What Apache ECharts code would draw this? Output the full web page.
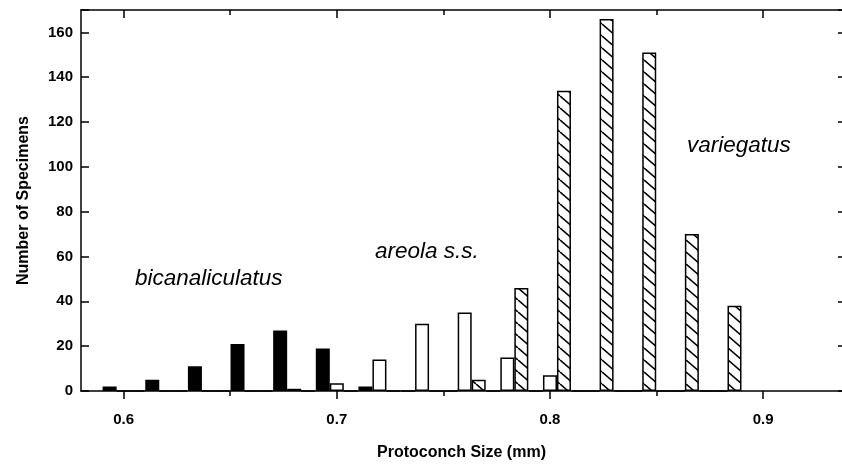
<!DOCTYPE html>
<html>
<head>
<meta charset="utf-8">
<script src="https://cdn.jsdelivr.net/npm/echarts@6/dist/echarts.min.js"></script>
<style>
html,body{margin:0;padding:0;background:#fff;}
#chart{width:842px;height:466px;}
</style>
</head>
<body>
<div id="chart"></div>
<script>
// Bin centres (mm)
var bins = [0.60, 0.62, 0.64, 0.66, 0.68, 0.70, 0.72, 0.74, 0.76, 0.78, 0.80, 0.82, 0.84, 0.86, 0.88];
// Number of specimens per bin
var bicanaliculatus = [2, 5, 11, 21, 27, 19, 2, 0, 0, 0, 0, 0, 0, 0, 0];
var areola = [0, 0, 0, 0, 1, 3.5, 14, 30, 35, 15, 7, 0, 0, 0, 0];
var variegatus = [0, 0, 0, 0, 0, 0, 0, 0, 5, 46, 134, 166, 151, 70, 38];
// Axis ticks
var xMajorTicks = [0.6, 0.7, 0.8, 0.9];
var xMinorTicks = [0.65, 0.75, 0.85];
var annotations = ['bicanaliculatus', 'areola s.s.', 'variegatus'];

function pairs(vals) {
  return bins.map(function (b, i) { return [b, vals[i]]; });
}

// diagonal hatch pattern
var tile = document.createElement('canvas');
var tw = 14, th = 12;
tile.width = tw; tile.height = th;
var c = tile.getContext('2d');
c.fillStyle = '#fff';
c.fillRect(0, 0, tw, th);
c.strokeStyle = '#000';
c.lineWidth = 1.6;
for (var k = -1; k <= 1; k++) {
  c.beginPath();
  c.moveTo(k * tw, 0);
  c.lineTo(k * tw + tw, th);
  c.stroke();
}

var FONT = '"Liberation Sans", Arial, Helvetica, sans-serif';
var chart = echarts.init(document.getElementById('chart'), null, {renderer: 'canvas'});

var axisLine = {show: true, lineStyle: {color: '#000', width: 1.5}};
var xMin = 0.58, xMax = 0.937;

var option = {
  animation: false,
  backgroundColor: '#fff',
  grid: {left: 81, right: 0, top: 10, bottom: 75, containLabel: false, outerBoundsMode: 'none'},
  xAxis: [
    {
      type: 'value', position: 'bottom', min: xMin, max: xMax,
      axisLine: axisLine,
      splitLine: {show: false},
      axisTick: {show: true, inside: false, length: 8, customValues: xMajorTicks, lineStyle: {color: '#000', width: 1.5}},
      axisLabel: {show: true, customValues: xMajorTicks, margin: 21, color: '#000', fontFamily: FONT, fontWeight: 'bold', fontSize: 15,
        formatter: function (v) { return v.toFixed(1); }},
      name: 'Protoconch Size (mm)', nameLocation: 'middle', nameGap: 54,
      nameTextStyle: {color: '#000', fontFamily: FONT, fontWeight: 'bold', fontSize: 16}
    },
    {
      type: 'value', position: 'bottom', min: xMin, max: xMax,
      axisLine: {show: false}, splitLine: {show: false}, axisLabel: {show: false},
      axisTick: {show: true, inside: false, length: 5, customValues: xMinorTicks, lineStyle: {color: '#000', width: 1.5}}
    },
    {
      type: 'value', position: 'top', min: xMin, max: xMax,
      axisLine: axisLine, splitLine: {show: false}, axisLabel: {show: false},
      axisTick: {show: true, inside: true, length: 8, customValues: xMajorTicks, lineStyle: {color: '#000', width: 1.5}}
    },
    {
      type: 'value', position: 'top', min: xMin, max: xMax,
      axisLine: {show: false}, splitLine: {show: false}, axisLabel: {show: false},
      axisTick: {show: true, inside: true, length: 5, customValues: xMinorTicks, lineStyle: {color: '#000', width: 1.5}}
    }
  ],
  yAxis: [
    {
      type: 'value', position: 'left', min: 0, max: 170, interval: 20,
      axisLine: axisLine, splitLine: {show: false},
      axisTick: {show: true, inside: true, length: 8, lineStyle: {color: '#000', width: 1.5}},
      axisLabel: {show: true, margin: 8, color: '#000', fontFamily: FONT, fontWeight: 'bold', fontSize: 15,
        formatter: function (v) { return v > 165 ? '' : String(v); }},
      name: 'Number of Specimens', nameLocation: 'middle', nameGap: 49,
      nameTextStyle: {color: '#000', fontFamily: FONT, fontWeight: 'bold', fontSize: 16}
    },
    {
      type: 'value', position: 'right', min: 0, max: 170, interval: 20,
      axisLine: {show: false}, splitLine: {show: false}, axisLabel: {show: false},
      axisTick: {show: true, inside: true, length: 4, lineStyle: {color: '#000', width: 1.5}}
    }
  ],
  series: [
    {
      name: 'bicanaliculatus', type: 'bar', xAxisIndex: 0, yAxisIndex: 0,
      data: pairs(bicanaliculatus), barWidth: 14, barGap: '0%',
      itemStyle: {color: '#000', borderColor: '#000', borderWidth: 1.5}
    },
    {
      name: 'areola s.s.', type: 'bar', xAxisIndex: 0, yAxisIndex: 0,
      data: pairs(areola), barWidth: 14, barGap: '0%',
      itemStyle: {color: '#fff', borderColor: '#000', borderWidth: 1.5}
    },
    {
      name: 'variegatus', type: 'bar', xAxisIndex: 0, yAxisIndex: 0,
      data: pairs(variegatus), barWidth: 14, barGap: '0%',
      itemStyle: {color: {image: tile, repeat: 'repeat'}, borderColor: '#000', borderWidth: 1.5}
    }
  ],
  graphic: [
    {type: 'text', left: 135, top: 267, style: {text: annotations[0], fill: '#000', font: 'italic 22.5px ' + FONT}},
    {type: 'text', left: 375, top: 240, style: {text: annotations[1], fill: '#000', font: 'italic 22.5px ' + FONT}},
    {type: 'text', left: 687, top: 134, style: {text: annotations[2], fill: '#000', font: 'italic 22.5px ' + FONT}}
  ]
};
chart.setOption(option);
</script>
</body>
</html>
